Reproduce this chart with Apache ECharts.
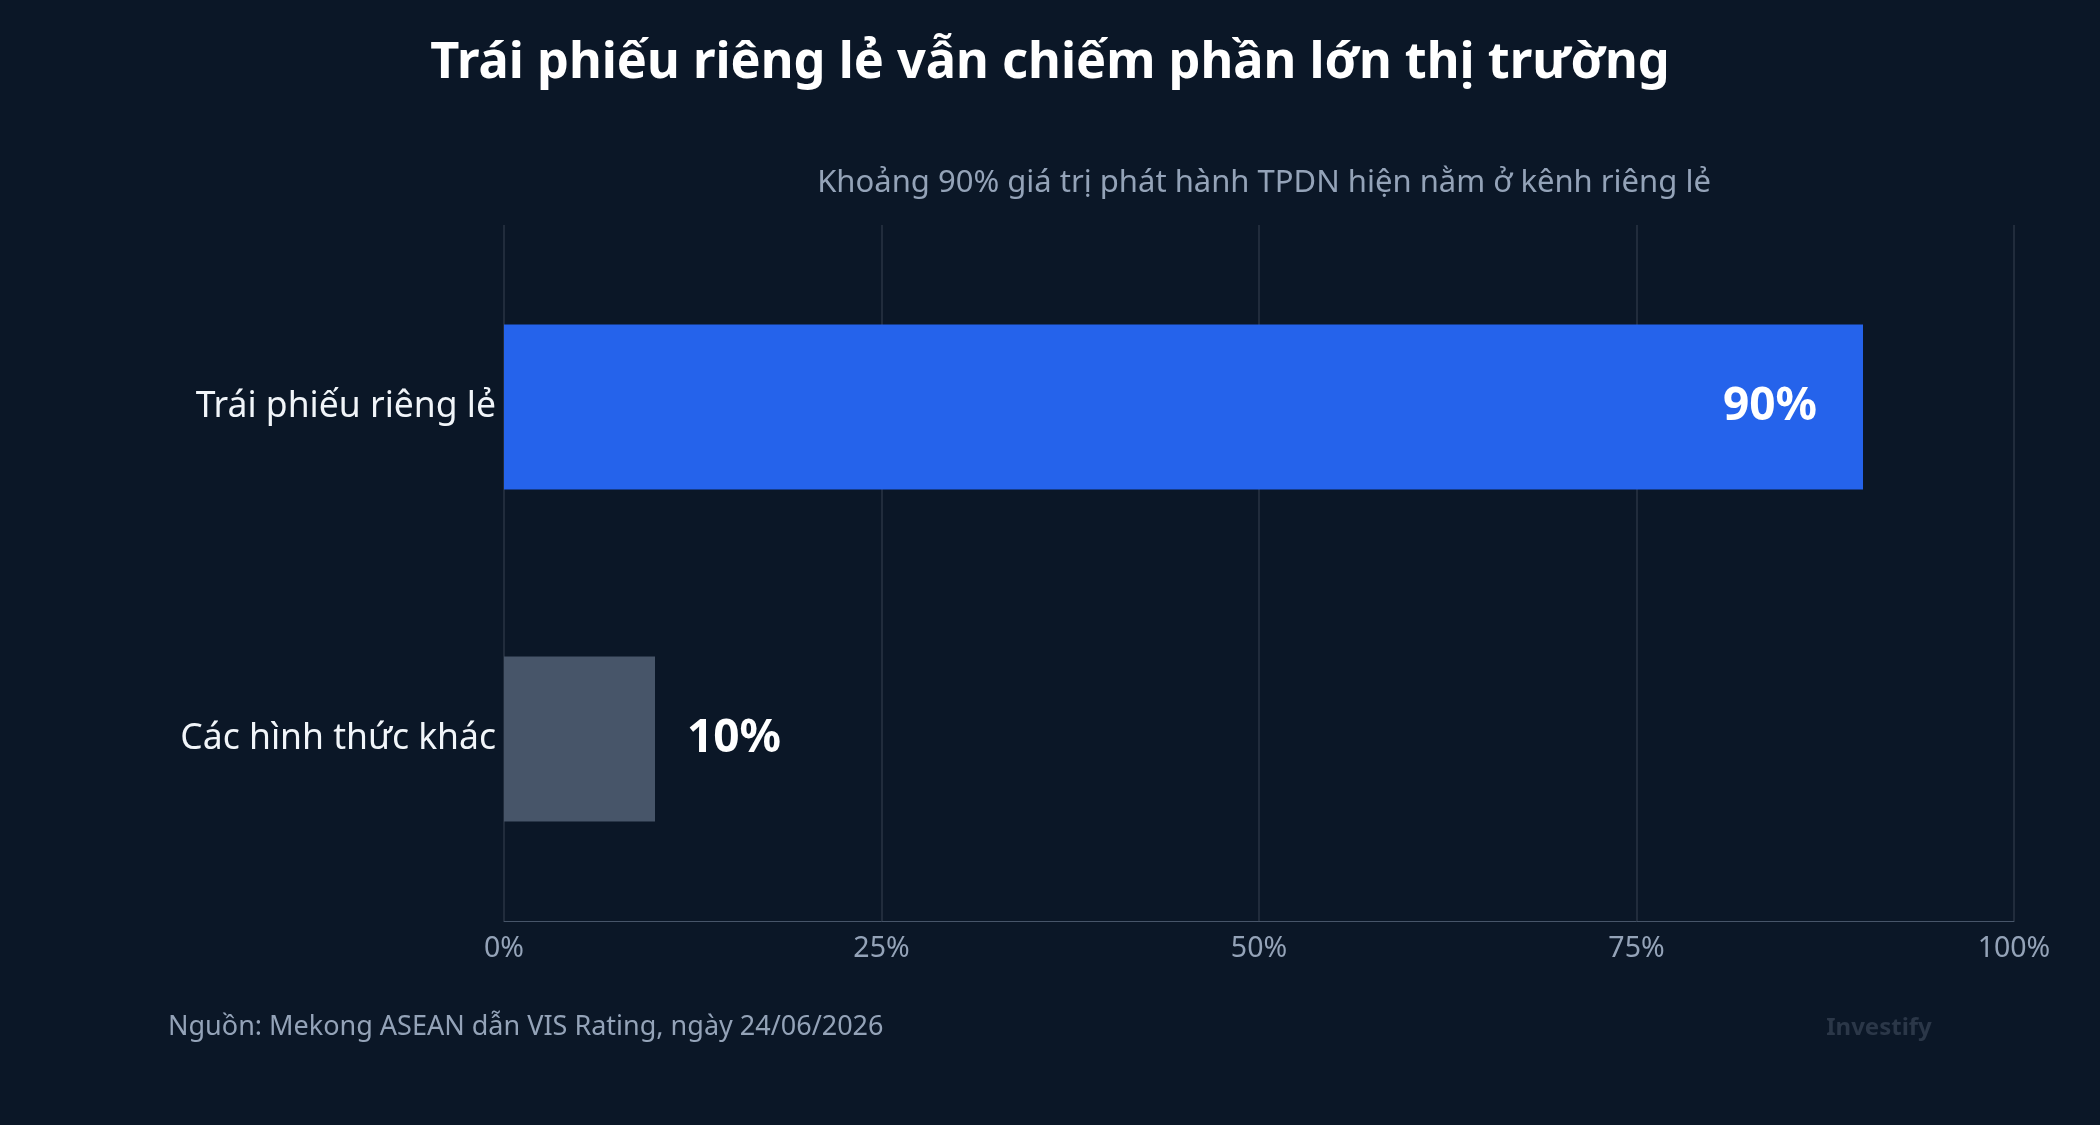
<!DOCTYPE html>
<html><head><meta charset="utf-8">
<script src="https://cdn.jsdelivr.net/npm/echarts@6/dist/echarts.min.js"></script>
<style>html,body{margin:0;padding:0;background:#0b1727;}#c{width:2100px;height:1125px;}</style>
</head><body><div id="c"></div>
<script>
const categories = ['Trái phiếu riêng lẻ', 'Các hình thức khác'];
const values = [90, 10];
const barColors = ['#2563eb', '#475569'];
const labelPositions = ['insideRight', 'right'];
const tickLabels = ['0%', '25%', '50%', '75%', '100%'];

const chart = echarts.init(document.getElementById('c'));
const F = '"Noto Sans", sans-serif';
chart.setOption({
  backgroundColor: '#0b1727',
  title: [
    {text: 'Trái phiếu riêng lẻ vẫn chiếm phần lớn thị trường', left: 'center', top: 33,
     textStyle: {color: '#ffffff', fontSize: 50.5, fontWeight: 'bold', fontFamily: F}},
    {text: 'Khoảng 90% giá trị phát hành TPDN hiện nằm ở kênh riêng lẻ', left: 1259, textAlign: 'center', top: 163,
     textStyle: {color: '#94a3b8', fontSize: 31, fontWeight: 'normal', fontFamily: F}},
    {text: 'Nguồn: Mekong ASEAN dẫn VIS Rating, ngày 24/06/2026', left: 163, top: 1009,
     textStyle: {color: '#94a3b8', fontSize: 27, fontWeight: 'normal', fontFamily: F}},
    {text: 'Investify', left: 1874, textAlign: 'center', top: 1011,
     textStyle: {color: '#2b3748', fontSize: 24, fontWeight: 'bold', fontFamily: F}}
  ],
  grid: [
    {left: 504, right: 86, top: 225, bottom: 204},
    {left: 504, right: 86, top: 241, bottom: 220}
  ],
  xAxis: [{
    gridIndex: 0, type: 'value', min: 0, max: 100, interval: 25,
    axisLine: {show: true, lineStyle: {color: '#475569'}},
    axisTick: {show: false},
    splitLine: {show: true, lineStyle: {color: '#2a3444', width: 1.5}},
    axisLabel: {color: '#94a3b8', fontSize: 28.5, fontFamily: F, margin: 13,
      formatter: v => tickLabels[Math.round(v / 25)]}
  }, {
    gridIndex: 1, type: 'value', min: 0, max: 100, show: false
  }],
  yAxis: [{
    gridIndex: 0, type: 'category', data: categories, show: false
  }, {
    gridIndex: 1, type: 'category', data: categories, inverse: true,
    axisLine: {show: false}, axisTick: {show: false},
    axisLabel: {color: '#f1f5f9', fontSize: 35.5, fontFamily: F, margin: 8, padding: [8, 0, 0, 0]}
  }],
  series: [{
    type: 'bar', xAxisIndex: 1, yAxisIndex: 1, barWidth: 165,
    data: values.map((v, i) => ({value: v, itemStyle: {color: barColors[i]},
      label: {show: true, position: labelPositions[i], distance: i === 0 ? 46 : 32}})),
    label: {color: '#ffffff', fontSize: 46, fontWeight: 'bold', fontFamily: F, formatter: '{c}%'}
  }]
});
</script></body></html>
